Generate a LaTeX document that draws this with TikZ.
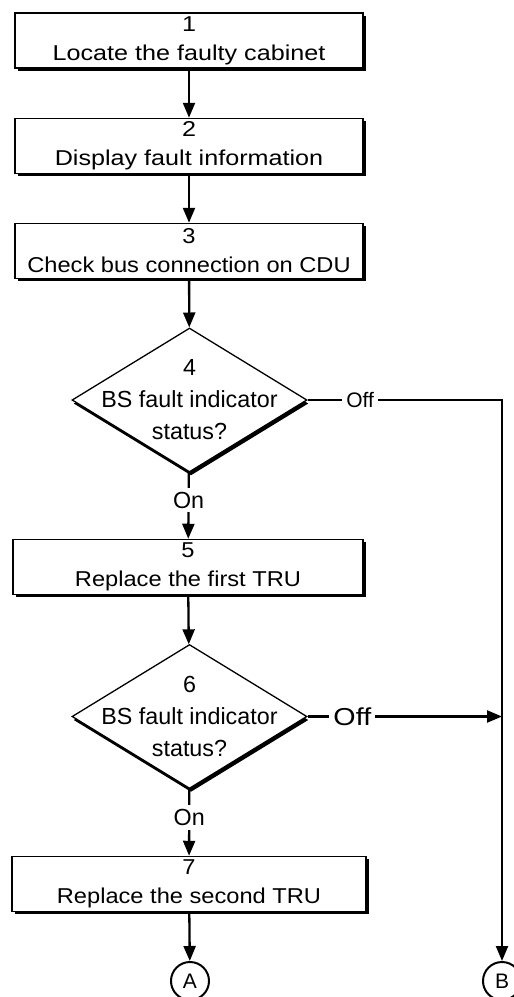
\documentclass[tikz,border=0pt]{standalone}
\usepackage{fontspec}
\setmainfont{Liberation Sans}
\newfontfamily\bxf{Liberation Sans}[FakeStretch=1.1]
\newfontfamily\bxw{Liberation Sans}[FakeStretch=1.17]
\usetikzlibrary{arrows.meta,shapes.geometric,shadows}
\begin{document}
\begin{tikzpicture}[x=1pt,y=-1pt,
  shd/.style={drop shadow={shadow xshift=2.5pt,shadow yshift=-2.5pt,fill=black,opacity=1}},
  dshd/.style={drop shadow={shadow xshift=1.5pt,shadow yshift=-3.5pt,fill=black,opacity=1}},
  stepbox/.style={draw,line width=1.5pt,fill=white,shd,minimum height=55pt,inner sep=0pt,align=center,
    font=\bxf\fontsize{21.5}{29}\selectfont},
  decision/.style={diamond,draw,line width=1.3pt,fill=white,dshd,minimum width=235pt,minimum height=144pt,inner sep=0pt},
  dlabel/.style={align=center,font=\fontsize{23.3}{32}\selectfont,inner sep=0pt},
  conn/.style={line width=2.3pt,line join=miter},
  arr/.style={conn,-{Triangle[width=12pt,length=15pt]}},
  lbl/.style={fill=white,inner xsep=4pt,inner ysep=4pt},
  conncirc/.style={circle,draw,line width=2pt,minimum size=38pt,inner sep=0pt,font=\fontsize{21}{21}\selectfont}
]
\path[use as bounding box] (0,0) rectangle (514,997);

\node[stepbox,minimum width=348pt,font=\bxw\fontsize{21.5}{29}\selectfont] (b1) at (189,40.5) {1\\Locate the faulty cabinet};
\node[stepbox,minimum width=348pt,font=\bxw\fontsize{21.5}{29}\selectfont] (b2) at (189,146) {2\\Display fault information};
\node[stepbox,minimum width=348pt] (b3) at (189,251) {3\\Check bus connection on CDU};
\node[decision,label={[dlabel]center:4\\BS fault indicator\\status?}] (d4) at (189.5,400) {};
\node[stepbox,minimum width=350pt] (b5) at (188,567) {5\\Replace the first TRU};
\node[decision,label={[dlabel]center:6\\BS fault indicator\\status?}] (d6) at (189.5,716.5) {};
\node[stepbox,minimum width=354pt] (b7) at (189,884) {7\\Replace the second TRU};

\node[conncirc] (A) at (190,981) {A};
\node[conncirc] (B) at (502,981) {B};

\draw[arr] (b1) -- (b2);
\draw[arr] (b2) -- (b3);
\draw[arr] (b3) -- (d4);
\draw[arr] (d4) -- node[pos=0.42,lbl,font=\fontsize{23.3}{23.3}\selectfont]{On} (b5);
\draw[arr] (b5) -- (d6);
\draw[arr] (d6) -- node[pos=0.43,lbl,font=\fontsize{23.3}{23.3}\selectfont]{On} (b7);
\draw[arr] (b7) -- (A);
\draw[arr] (d4.east) -- node[pos=0.27,lbl,font=\fontsize{21}{21}\selectfont]{Off} (d4.east -| B) -- (B);
\draw[arr] (d6.east) -- node[pos=0.23,lbl,font=\bxw\fontsize{24.5}{24.5}\selectfont]{Off} (d6.east -| B);
\end{tikzpicture}
\end{document}
